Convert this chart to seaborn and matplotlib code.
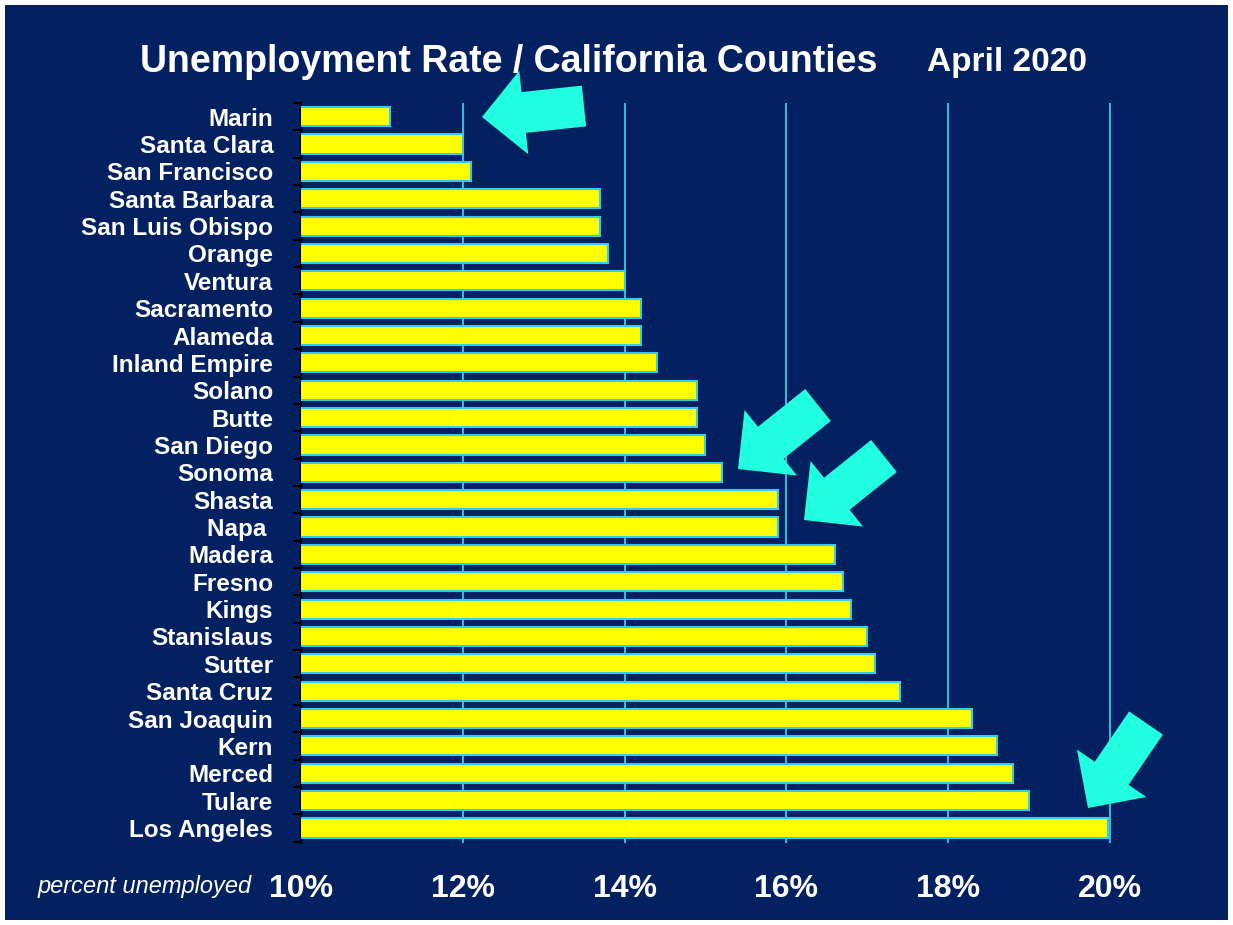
import matplotlib
matplotlib.use("Agg")
import matplotlib.pyplot as plt
import matplotlib.patches as mpatches
import matplotlib.transforms as mtransforms
import seaborn as sns
import pandas as pd

counties = ["Marin", "Santa Clara", "San Francisco", "Santa Barbara", "San Luis Obispo",
            "Orange", "Ventura", "Sacramento", "Alameda", "Inland Empire", "Solano",
            "Butte", "San Diego", "Sonoma", "Shasta", "Napa ", "Madera", "Fresno",
            "Kings", "Stanislaus", "Sutter", "Santa Cruz", "San Joaquin", "Kern",
            "Merced", "Tulare", "Los Angeles"]
rates = [11.1, 12.0, 12.1, 13.7, 13.7, 13.8, 14.0, 14.2, 14.2, 14.4, 14.9,
         14.9, 15.0, 15.2, 15.9, 15.9, 16.6, 16.7, 16.8, 17.0, 17.1, 17.4,
         18.3, 18.6, 18.8, 19.0, 19.97]
xticks = [10, 12, 14, 16, 18, 20]
xtick_labels = ["10%", "12%", "14%", "16%", "18%", "20%"]

NAVY = "#032060"
CYAN = "#33CCEE"
ARROW = "#22FFE0"
FONT = ["Liberation Sans", "DejaVu Sans"]

sns.set_theme(style="white")
plt.rcParams["font.family"] = FONT

W, H = 1233, 925
fig = plt.figure(figsize=(W / 100, H / 100), dpi=100, facecolor="white")
fig.patches.append(mpatches.Rectangle((5 / W, 5 / H), 1 - 10 / W, 1 - 10 / H,
                                      transform=fig.transFigure, facecolor=NAVY,
                                      edgecolor="none", zorder=-10))

left_px, right_px, top_px, bot_px = 301, 1118, 103, 843
ax = fig.add_axes([left_px / W, 1 - bot_px / H, (right_px - left_px) / W, (bot_px - top_px) / H])
ax.set_facecolor(NAVY)

df = pd.DataFrame({"county": counties, "rate": rates})
sns.barplot(data=df, x="rate", y="county", orient="h", color="#FFFF00",
            edgecolor=CYAN, linewidth=1.5, width=0.7, saturation=1, ax=ax, zorder=3)

ax.set_xlim(10, 10 + (right_px - left_px) / 80.9)
ax.set_ylim(len(counties) - 0.5 + 0.05, -0.5)
for v in xticks[1:]:
    ax.axvline(v, color=CYAN, lw=1.3, zorder=1)

ax.set_xticks(xticks)
ax.set_xticklabels(xtick_labels, fontsize=23, fontweight="bold", color="white")
ax.tick_params(axis="x", length=0, pad=22)
ax.set_xlabel("")
ax.set_ylabel("")
ax.tick_params(axis="y", which="major", length=0, pad=20, labelsize=17.5, labelcolor="white")
for t in ax.get_yticklabels():
    t.set_fontweight("bold")
ax.set_yticks([i - 0.5 for i in range(len(counties) + 1)], minor=True)
ax.tick_params(axis="y", which="minor", length=6, width=1.5, color="black", left=True)

for s in ["top", "right", "bottom"]:
    ax.spines[s].set_visible(False)
ax.spines["left"].set_color("black")
ax.spines["left"].set_linewidth(1.5)
ax.grid(False)

fig.text(140 / W, 1 - 62 / H, "Unemployment Rate / California Counties", fontsize=27,
         fontweight="bold", color="white", ha="left", va="center")
fig.text(1007 / W, 1 - 62 / H, "April 2020", fontsize=24, fontweight="bold",
         color="white", ha="center", va="center")
fig.text(252 / W, 1 - 887 / H, "percent unemployed", fontsize=17, fontstyle="italic",
         color="white", ha="right", va="center")

# highlight arrows (pixel coordinates, image y measured from top)
def fat_arrow(tail, tip):
    x0, y0 = tail[0], H - tail[1]
    x1, y1 = tip[0], H - tip[1]
    a = mpatches.FancyArrow(x0, y0, x1 - x0, y1 - y0, width=41, head_width=84,
                            head_length=42, length_includes_head=True,
                            transform=mtransforms.IdentityTransform(),
                            facecolor=ARROW, edgecolor="none", zorder=20)
    fig.patches.append(a)

fat_arrow((584, 106), (482, 117))
fat_arrow((818, 405), (738, 469))
fat_arrow((884, 456), (804, 520))
fat_arrow((1146, 723), (1088, 808))

fig.savefig("out.png", dpi=100, facecolor="white")
